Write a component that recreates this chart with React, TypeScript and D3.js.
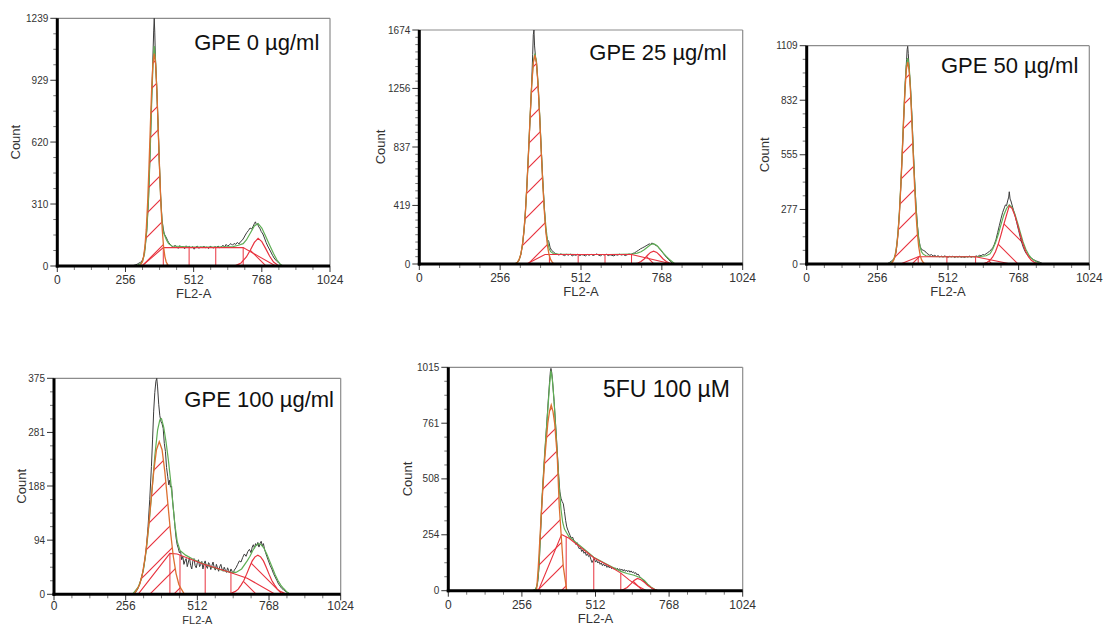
import React from "react";
import * as d3 from "d3";

type Pt = [number, number];

// ---------- shared axis data ----------
const channelTicks = [0, 256, 512, 768, 1024];
const channelMinorStep = 64;
const xAxisLabel = "FL2-A";
const yAxisLabel = "Count";

const titles = ["GPE 0 µg/ml", "GPE 25 µg/ml", "GPE 50 µg/ml", "GPE 100 µg/ml", "5FU 100 µM"];

const yTicks1 = [0, 310, 620, 929, 1239];
const yTicks2 = [0, 419, 837, 1256, 1674];
const yTicks3 = [0, 277, 555, 832, 1109];
const yTicks4 = [0, 94, 188, 281, 375];
const yTicks5 = [0, 254, 508, 761, 1015];

// ---------- Panel 1: GPE 0 ----------
const raw1: Pt[] = [[276,0],[284,2],[292,5],[300,9],[306,14],[312,18],[318,25],[324,45],[330,95],[336,180],[342,320],[348,550],[354,820],[358,1000],[362,1180],[364,1239],[366,1170],[368,1060],[373,905],[378,725],[383,525],[388,350],[393,235],[398,185],[402,160],[406,150],[410,140],[414,128],[418,118],[424,108],[430,100],[436,92],[442,104],[448,96],[454,88],[460,102],[466,94],[472,99],[478,86],[484,101],[490,93],[496,98],[502,90],[508,97],[514,84],[520,95],[526,99],[532,88],[538,96],[544,92],[550,100],[556,91],[562,95],[568,87],[574,99],[580,94],[586,90],[592,97],[598,93],[604,100],[610,91],[616,96],[622,104],[628,95],[634,108],[640,99],[646,106],[652,112],[658,104],[664,113],[670,108],[676,118],[682,110],[688,122],[694,128],[700,140],[706,155],[712,168],[718,178],[724,190],[730,185],[736,200],[740,212],[744,221],[748,205],[752,212],[756,196],[760,190],[766,172],[772,160],[778,140],[784,118],[790,100],[796,85],[802,70],[808,54],[814,40],[820,30],[826,22],[832,14],[838,7],[844,2],[850,0]];
const fit1: Pt[] = [[290,0],[300,4],[310,10],[320,22],[328,65],[336,175],[343,345],[349,580],[355,845],[360,1030],[364,1100],[368,1045],[373,905],[378,720],[383,520],[388,345],[393,230],[398,170],[404,150],[410,130],[418,112],[430,100],[500,95],[600,95],[660,97],[680,104],[698,112],[710,130],[725,165],[740,200],[754,212],[768,190],[782,150],[797,105],[812,62],[825,30],[838,8],[848,0]];
const g1_1: Pt[] = [[310,0],[314,8],[319,20],[324,47],[329,97],[334,183],[339,313],[344,486],[349,684],[354,874],[359,1012],[364,1062],[369,1012],[374,874],[379,684],[384,486],[389,313],[394,183],[399,97],[404,47],[409,20],[414,8],[418,0]];
const s1: Pt[] = [[318,0],[398,92],[698,92],[820,0]];
const sDiv1: Pt[] = [[398,92],[495,92],[595,92],[698,92]];
const g2_1: Pt[] = [[665,0],[690,15],[710,45],[725,80],[740,118],[754,138],[768,122],[782,88],[797,50],[812,20],[828,4],[838,0]];

// ---------- Panel 2: GPE 25 ----------
const raw2: Pt[] = [[296,0],[304,4],[310,10],[316,28],[322,72],[328,160],[334,300],[340,530],[346,805],[352,1100],[356,1300],[359,1500],[361,1640],[363,1674],[365,1560],[368,1480],[371,1440],[376,1280],[381,1070],[386,830],[391,600],[396,400],[400,260],[403,200],[406,175],[410,160],[414,120],[418,100],[424,88],[430,76],[436,70],[442,64],[448,72],[454,66],[460,60],[466,69],[472,63],[478,71],[484,58],[490,66],[496,62],[502,70],[508,60],[514,67],[520,64],[526,58],[532,68],[538,62],[544,70],[550,61],[556,66],[562,72],[568,63],[574,59],[580,68],[586,64],[592,70],[598,60],[604,66],[610,62],[616,58],[622,67],[628,63],[634,70],[640,64],[646,68],[652,60],[658,66],[664,71],[670,68],[676,76],[682,80],[688,90],[694,98],[700,108],[706,115],[712,122],[718,130],[724,138],[728,144],[732,140],[736,150],[740,146],[744,140],[748,134],[754,128],[760,110],[766,95],[772,78],[778,60],[784,44],[790,30],[796,16],[802,6],[808,0]];
const fit2: Pt[] = [[300,0],[310,8],[316,31],[321,66],[326,127],[331,226],[336,372],[341,572],[346,810],[351,1062],[356,1288],[361,1447],[366,1505],[371,1450],[376,1295],[381,1073],[386,824],[391,590],[396,395],[401,260],[406,165],[411,110],[416,88],[424,75],[440,70],[500,68],[600,68],[672,70],[690,78],[702,88],[712,102],[722,120],[732,138],[742,145],[752,132],[762,108],[772,80],[782,55],[792,32],[802,14],[810,0]];
const g1_2: Pt[] = [[306,0],[311,14],[316,31],[321,66],[326,127],[331,226],[336,372],[341,570],[346,806],[351,1057],[356,1281],[361,1438],[366,1495],[371,1438],[376,1281],[381,1057],[386,806],[391,570],[396,372],[401,226],[406,127],[411,66],[416,31],[421,14],[426,0]];
const s2: Pt[] = [[340,0],[398,68],[672,68],[800,0]];
const sDiv2: Pt[] = [[412,68],[503,68],[588,68],[672,68]];
const g2_2: Pt[] = [[680,0],[692,7],[702,18],[712,36],[722,61],[732,83],[742,92],[752,83],[762,61],[772,36],[782,18],[792,7],[804,0]];

// ---------- Panel 3: GPE 50 ----------
const raw3: Pt[] = [[286,0],[294,3],[300,8],[306,14],[312,20],[318,30],[324,60],[330,140],[336,260],[342,420],[348,620],[354,820],[358,950],[362,1040],[364,1090],[366,1106],[368,1070],[371,1000],[376,900],[381,760],[386,590],[391,430],[396,300],[401,200],[406,130],[411,90],[416,74],[422,70],[428,66],[434,56],[440,50],[446,44],[452,48],[458,40],[464,44],[470,38],[476,42],[482,36],[488,40],[494,35],[500,41],[506,37],[512,34],[518,39],[524,36],[530,40],[536,33],[542,38],[548,35],[554,39],[560,34],[566,37],[572,33],[578,38],[584,35],[590,40],[596,34],[602,38],[608,36],[614,41],[620,38],[626,44],[632,42],[638,48],[644,46],[650,52],[656,58],[662,64],[668,72],[674,82],[680,100],[686,125],[692,160],[698,195],[704,230],[710,262],[716,285],[720,300],[724,296],[728,320],[732,340],[734,367],[737,330],[740,320],[744,300],[750,270],[756,240],[762,205],[768,170],[774,135],[780,105],[786,80],[792,62],[798,48],[804,40],[810,34],[816,28],[822,22],[828,18],[834,14],[840,12],[846,8],[852,4],[858,0]];
const fit3: Pt[] = [[296,0],[304,6],[311,14],[316,26],[321,50],[326,95],[331,165],[336,268],[341,405],[346,568],[351,742],[356,897],[361,1006],[366,1046],[371,1008],[376,902],[381,752],[386,582],[391,424],[396,290],[401,192],[406,125],[411,85],[416,62],[422,50],[432,42],[450,38],[500,37],[560,37],[600,37],[630,38],[650,42],[664,52],[674,75],[684,108],[694,150],[704,200],[714,248],[724,282],[734,300],[744,288],[754,255],[764,210],[774,160],[784,112],[794,75],[804,48],[814,30],[824,18],[834,10],[844,5],[856,0]];
const g1_3: Pt[] = [[304,0],[311,10],[316,22],[321,45],[326,87],[331,155],[336,255],[341,391],[346,552],[351,725],[356,878],[361,986],[366,1025],[371,986],[376,878],[381,725],[386,552],[391,391],[396,255],[401,155],[406,87],[411,45],[416,22],[421,10],[428,0]];
const s3: Pt[] = [[340,0],[404,37],[612,37],[740,0]];
const sDiv3: Pt[] = [[404,37],[508,37],[612,37]];
const g2_3: Pt[] = [[634,0],[644,4],[654,9],[664,19],[674,36],[684,62],[694,100],[704,148],[714,200],[724,248],[734,295],[744,283],[754,248],[764,200],[774,148],[784,100],[794,62],[804,36],[814,19],[824,9],[834,4],[844,0]];

// ---------- Panel 4: GPE 100 ----------
const raw4: Pt[] = [[284,0],[292,4],[300,10],[306,18],[312,28],[318,40],[324,58],[330,82],[336,118],[342,165],[348,222],[352,268],[356,318],[360,350],[364,370],[367,375],[370,360],[374,330],[378,310],[382,300],[386,296],[390,288],[394,262],[398,248],[402,220],[406,205],[410,190],[413,198],[416,186],[420,188],[424,160],[428,140],[432,118],[436,98],[440,86],[444,80],[448,72],[452,75],[456,60],[460,66],[464,52],[468,58],[472,62],[476,48],[480,56],[484,64],[488,50],[492,44],[496,58],[500,62],[504,50],[508,46],[512,55],[516,60],[520,48],[524,52],[528,57],[532,44],[536,53],[540,58],[544,49],[548,45],[552,55],[556,52],[560,43],[564,50],[568,56],[572,47],[576,42],[580,52],[584,46],[588,40],[592,48],[596,52],[600,44],[604,40],[608,47],[612,42],[616,38],[620,46],[624,41],[628,37],[632,44],[636,40],[640,36],[644,42],[650,46],[656,52],[662,58],[668,56],[674,64],[680,70],[686,66],[692,74],[698,78],[704,72],[708,82],[712,86],[716,80],[720,88],[724,84],[728,90],[732,82],[736,88],[740,92],[744,84],[748,88],[752,78],[756,72],[760,66],[766,58],[772,50],[778,44],[784,36],[790,30],[796,24],[802,18],[808,14],[814,10],[820,8],[826,5],[834,3],[842,1],[850,0]];
const fit4: Pt[] = [[280,0],[290,6],[300,12],[310,24],[320,44],[330,78],[340,125],[350,180],[360,240],[370,285],[378,303],[384,305],[392,290],[400,265],[408,235],[416,200],[424,160],[432,120],[440,92],[450,76],[470,68],[500,60],[530,54],[560,48],[600,42],[630,38],[650,38],[670,44],[690,58],[700,66],[710,76],[720,84],[730,88],[740,86],[750,80],[760,70],[770,58],[780,46],[790,34],[800,24],[810,16],[820,10],[830,5],[842,0]];
const g1_4: Pt[] = [[286,0],[296,8],[306,17],[316,36],[326,66],[336,109],[346,161],[356,212],[366,251],[376,265],[386,251],[396,212],[406,161],[416,109],[426,66],[436,36],[446,17],[456,8],[466,0]];
const s4: Pt[] = [[300,0],[414,71],[440,70],[530,53],[630,38],[690,28],[790,0]];
const sDiv4: Pt[] = [[414,71],[450,68],[540,51],[632,37]];
const g2_4: Pt[] = [[628,0],[638,3],[648,5],[658,9],[668,16],[678,24],[688,35],[698,47],[708,58],[718,65],[728,68],[738,65],[748,58],[758,47],[768,35],[778,24],[788,16],[798,9],[808,5],[818,3],[830,0]];

// ---------- Panel 5: 5FU 100 µM ----------
const raw5: Pt[] = [[290,0],[298,3],[304,8],[308,20],[312,50],[316,115],[320,240],[326,410],[332,550],[338,670],[344,790],[348,870],[352,945],[355,995],[357,1010],[360,990],[364,930],[368,860],[372,780],[376,700],[380,610],[384,520],[388,450],[392,420],[396,405],[400,395],[404,360],[408,320],[412,290],[416,275],[420,262],[424,250],[428,238],[432,244],[436,230],[440,222],[444,210],[448,218],[452,200],[456,190],[460,196],[464,178],[468,185],[472,170],[476,176],[480,160],[484,168],[488,155],[492,160],[496,142],[500,128],[504,138],[508,146],[512,130],[516,138],[520,126],[524,132],[528,120],[532,126],[536,114],[540,122],[544,112],[548,118],[552,106],[556,112],[560,104],[564,110],[568,100],[572,106],[576,98],[580,104],[584,96],[588,102],[592,94],[596,100],[600,92],[604,98],[608,90],[612,96],[616,88],[620,94],[624,86],[628,92],[632,84],[636,90],[640,82],[644,86],[648,78],[652,82],[656,72],[660,76],[666,64],[672,56],[678,48],[684,40],[690,32],[696,24],[702,16],[708,10],[714,6],[720,3],[728,0]];
const fit5: Pt[] = [[296,0],[304,8],[310,30],[316,120],[325,400],[336,640],[346,820],[352,930],[357,1000],[362,960],[368,860],[374,730],[380,600],[386,470],[392,370],[398,310],[404,280],[412,262],[420,245],[440,224],[470,192],[506,152],[540,128],[570,108],[600,88],[622,78],[646,70],[670,58],[682,46],[694,30],[706,16],[718,6],[730,0]];
const g1_5: Pt[] = [[307,0],[313,109],[325,382],[336,609],[346,760],[352,815],[358,844],[364,815],[370,760],[379,609],[386,382],[400,109],[412,0]];
const s5: Pt[] = [[313,0],[394,255],[420,238],[506,150],[560,112],[600,80],[630,48],[660,20],[690,0]];
const sDiv5: Pt[] = [[410,245],[506,150],[600,80]];
const g2_5: Pt[] = [[596,0],[610,6],[622,15],[634,30],[646,46],[658,56],[670,50],[682,38],[694,24],[706,13],[718,5],[730,0]];

// ---------- layout (positions only) ----------
const layouts = [
  { left: 57.3, right: 330, top: 18.3, bottom: 266, titleDx: 10.7, titleDy: 31.7, titleSize: 22, countDx: 42, yMinor: 4, xLabDy: 18, flDy: 32, flSize: 13 },
  { left: 419.3, right: 742.7, top: 30, bottom: 264, titleDx: 16, titleDy: 30, titleSize: 22, countDx: 39, yMinor: 8, xLabDy: 18, flDy: 32, flSize: 13 },
  { left: 806.7, right: 1089.3, top: 45.7, bottom: 264, titleDx: 11, titleDy: 27.6, titleSize: 22, countDx: 42, yMinor: 4, xLabDy: 18, flDy: 32, flSize: 13 },
  { left: 54, right: 340.7, top: 378.3, bottom: 594.3, titleDx: 6.7, titleDy: 28.4, titleSize: 22, countDx: 33, yMinor: 4, xLabDy: 16, flDy: 29.2, flSize: 11 },
  { left: 448.3, right: 742.7, top: 367.3, bottom: 590.7, titleDx: 12.7, titleDy: 30, titleSize: 23, countDx: 41, yMinor: 4, xLabDy: 18, flDy: 32, flSize: 13 },
];

const panelData = [
  { yTicks: yTicks1, raw: raw1, fit: fit1, g1: g1_1, s: s1, sDiv: sDiv1, g2: g2_1 },
  { yTicks: yTicks2, raw: raw2, fit: fit2, g1: g1_2, s: s2, sDiv: sDiv2, g2: g2_2 },
  { yTicks: yTicks3, raw: raw3, fit: fit3, g1: g1_3, s: s3, sDiv: sDiv3, g2: g2_3 },
  { yTicks: yTicks4, raw: raw4, fit: fit4, g1: g1_4, s: s4, sDiv: sDiv4, g2: g2_4 },
  { yTicks: yTicks5, raw: raw5, fit: fit5, g1: g1_5, s: s5, sDiv: sDiv5, g2: g2_5 },
];

const C_RAW = "#3c3c3c";
const C_FIT = "#5fae55";
const C_G1 = "#dc6f30";
const C_RED = "#e8333f";
const FONT = "'Liberation Sans', Arial, sans-serif";

function Panel({ idx }: { idx: number }) {
  const L = layouts[idx];
  const D = panelData[idx];
  const yMax = D.yTicks[D.yTicks.length - 1];
  const x = d3.scaleLinear().domain([0, 1024]).range([L.left, L.right]);
  const y = d3.scaleLinear().domain([0, yMax]).range([L.bottom, L.top]);
  const line = d3.line<Pt>().x((d) => x(d[0])).y((d) => y(d[1]));
  const area = d3.area<Pt>().x((d) => x(d[0])).y0(y(0)).y1((d) => y(d[1]));

  const xMinor = d3.range(0, 1024 + 1, channelMinorStep).filter((v) => !channelTicks.includes(v));
  const yMinorVals: number[] = [];
  for (let i = 0; i < D.yTicks.length - 1; i++) {
    for (let k = 1; k < L.yMinor; k++) {
      yMinorVals.push(D.yTicks[i] + ((D.yTicks[i + 1] - D.yTicks[i]) * k) / L.yMinor);
    }
  }

  const clipId = `clip${idx}`;
  const hatchA = `hatchA${idx}`;
  const hatchB = `hatchB${idx}`;
  const cx = (L.left + L.right) / 2;
  const cy = (L.top + L.bottom) / 2;

  return (
    <g>
      <defs>
        <clipPath id={clipId}>
          <rect x={L.left} y={L.top - 1} width={L.right - L.left} height={L.bottom - L.top + 1} />
        </clipPath>
        <pattern id={hatchA} patternUnits="userSpaceOnUse" width={24} height={24}>
          <path d="M0,24 L24,0 M-6,6 L6,-6 M18,30 L30,18" stroke={C_RED} strokeWidth={1.2} fill="none" />
        </pattern>
        <pattern id={hatchB} patternUnits="userSpaceOnUse" width={26} height={26}>
          <path d="M0,0 L26,26 M-6,20 L6,32 M20,-6 L32,6" stroke={C_RED} strokeWidth={1.1} fill="none" />
        </pattern>
      </defs>

      {/* frame: top & right thin gray */}
      <line x1={L.left} x2={L.right} y1={L.top} y2={L.top} stroke="#8c8c8c" strokeWidth={1.2} />
      <line x1={L.right} x2={L.right} y1={L.top} y2={L.bottom} stroke="#8c8c8c" strokeWidth={1.2} />

      <g clipPath={`url(#${clipId})`}>
        <path d={area(D.g2) || ""} fill={`url(#${hatchB})`} stroke="none" />
        <path d={line(D.raw) || ""} fill="none" stroke={C_RAW} strokeWidth={1} />
        <path d={line(D.fit) || ""} fill="none" stroke={C_FIT} strokeWidth={1.2} />
        <path d={line(D.s) || ""} fill="none" stroke={C_RED} strokeWidth={1.1} />
        {D.sDiv.map((d, i) => (
          <line key={i} x1={x(d[0])} x2={x(d[0])} y1={y(0)} y2={y(d[1])} stroke={C_RED} strokeWidth={1} />
        ))}
        <path d={line(D.g2) || ""} fill="none" stroke={C_RED} strokeWidth={1.2} />
        <path d={area(D.g1) || ""} fill={`url(#${hatchA})`} stroke="none" />
        <path d={line(D.g1) || ""} fill="none" stroke={C_G1} strokeWidth={1.3} />
      </g>

      {/* y axis ticks */}
      {D.yTicks.map((t) => (
        <g key={`yt${t}`}>
          <line x1={L.left - 7} x2={L.left} y1={y(t)} y2={y(t)} stroke="#333" strokeWidth={1} />
          <text x={L.left - 9} y={y(t)} dy="0.35em" textAnchor="end" fontSize={10} fill="#333" fontFamily={FONT}>
            {t}
          </text>
        </g>
      ))}
      {yMinorVals.map((t, i) => (
        <line key={`ym${i}`} x1={L.left - 4} x2={L.left} y1={y(t)} y2={y(t)} stroke="#555" strokeWidth={0.8} />
      ))}

      {/* x axis ticks */}
      {channelTicks.map((t) => (
        <g key={`xt${t}`}>
          <line x1={x(t)} x2={x(t)} y1={L.bottom} y2={L.bottom + 6} stroke="#333" strokeWidth={1} />
          <text x={x(t)} y={L.bottom + L.xLabDy} textAnchor="middle" fontSize={12} fill="#333" fontFamily={FONT}>
            {t}
          </text>
        </g>
      ))}
      {xMinor.map((t) => (
        <line key={`xm${t}`} x1={x(t)} x2={x(t)} y1={L.bottom} y2={L.bottom + 4} stroke="#555" strokeWidth={0.8} />
      ))}

      {/* thick axes */}
      <line x1={L.left} x2={L.left} y1={L.top} y2={L.bottom + 1.5} stroke="#000" strokeWidth={3} />
      <line x1={L.left - 1.5} x2={L.right} y1={L.bottom} y2={L.bottom} stroke="#000" strokeWidth={3} />

      {/* axis titles */}
      <text x={cx} y={L.bottom + L.flDy} textAnchor="middle" fontSize={L.flSize} fill="#333" fontFamily={FONT}>
        {xAxisLabel}
      </text>
      <text
        transform={`translate(${L.left - L.countDx},${cy}) rotate(-90)`}
        textAnchor="middle"
        dy="0.35em"
        fontSize={13}
        fill="#333"
        fontFamily={FONT}
      >
        {yAxisLabel}
      </text>

      {/* panel title */}
      <text x={L.right - L.titleDx} y={L.top + L.titleDy} textAnchor="end" fontSize={L.titleSize} fill="#111" fontFamily={FONT}>
        {titles[idx]}
      </text>
    </g>
  );
}

export default function App() {
  return (
    <svg
      width={1106}
      height={626}
      style={{ position: "absolute", left: 0, top: 0, background: "#fff" }}
    >
      <rect x={0} y={0} width={1106} height={626} fill="#fff" />
      {layouts.map((_, i) => (
        <Panel key={i} idx={i} />
      ))}
    </svg>
  );
}
